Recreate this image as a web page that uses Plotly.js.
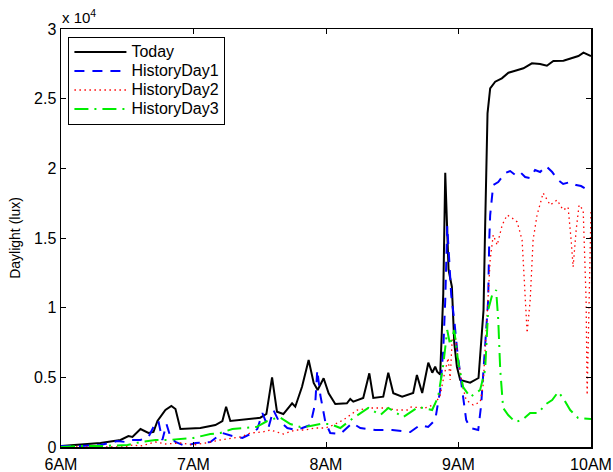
<!DOCTYPE html>
<html>
<head>
<meta charset="utf-8">
<script src="https://cdn.plot.ly/plotly-3.0.1.min.js"></script>
<style>html,body{margin:0;padding:0;background:#fff;}#chart{width:613px;height:472px;}</style>
</head>
<body>
<div id="chart"></div>
<script>
// time in hours (6 = 6AM)
const todayT = [6.0,6.298,6.449,6.509,6.539,6.600,6.660,6.698,6.728,6.788,6.833,6.864,6.901,7.052,7.165,7.218,7.246,7.278,7.504,7.550,7.593,7.630,7.678,7.744,7.768,7.819,7.869,7.907,7.937,7.982,8.020,8.070,8.158,8.183,8.206,8.281,8.327,8.357,8.432,8.470,8.508,8.575,8.658,8.686,8.726,8.772,8.802,8.824,8.839,8.862,8.885,8.900,8.925,8.950,8.968,8.988,9.013,9.088,9.151,9.189,9.201,9.209,9.219,9.239,9.277,9.327,9.377,9.428,9.490,9.554,9.616,9.667,9.716,9.792,9.855,9.905,9.943,10.0];
const todayV = [70,287,502,789,718,1292,1005,1077,1866,2655,2943,2727,1292,1364,1579,1866,2892,1866,2103,2368,5002,2533,2368,3136,2892,4328,6244,4593,4091,4931,3854,3086,3136,3445,3251,3517,5289,3517,3610,5332,3854,3610,3876,5167,3876,6050,5332,5763,5404,5200,11000,19687,12703,11505,7464,5763,4809,4615,4952,9832,15811,20598,23949,25744,26218,26462,26864,27007,27179,27538,27488,27366,27703,27725,27897,28062,28299,28062];

const hist1T = [6.0,6.147,6.298,6.426,6.486,6.532,6.600,6.660,6.698,6.735,6.765,6.796,6.826,6.864,6.939,7.014,7.127,7.218,7.293,7.369,7.429,7.482,7.520,7.565,7.603,7.640,7.708,7.769,7.821,7.882,7.919,7.934,7.957,7.995,8.032,8.108,8.198,8.259,8.372,8.500,8.636,8.711,8.771,8.824,8.862,8.885,8.900,8.915,8.930,8.945,8.968,8.990,9.028,9.058,9.088,9.149,9.171,9.201,9.224,9.232,9.239,9.262,9.300,9.352,9.390,9.428,9.465,9.503,9.541,9.578,9.616,9.661,9.707,9.752,9.790,9.843,9.888,9.925,9.963,10.0];
const hist1V = [72,72,144,431,359,502,502,718,1435,1866,502,1651,718,359,72,287,359,1005,789,646,933,1292,2440,1364,2655,1938,1364,1220,1364,1579,3158,5526,3732,1794,1005,933,1722,1364,1220,1220,1077,1579,1435,1938,4091,6961,10550,15861,13421,10909,9113,6961,4091,1938,1364,1220,3014,6961,10550,14854,16648,18802,19017,19663,19807,19520,19735,19376,19304,19878,19735,20166,19735,19161,18874,19017,18802,18730,18515,18443];

const hist2T = [6.0,6.275,6.471,6.539,6.600,6.713,6.788,6.901,6.999,7.090,7.203,7.354,7.429,7.520,7.580,7.678,7.769,7.844,7.919,7.995,8.055,8.130,8.236,8.334,8.447,8.538,8.613,8.643,8.749,8.824,8.862,8.892,8.922,8.937,8.952,8.975,8.998,9.028,9.058,9.111,9.164,9.186,9.209,9.224,9.239,9.262,9.292,9.330,9.367,9.405,9.443,9.480,9.503,9.518,9.541,9.563,9.593,9.639,9.692,9.744,9.790,9.827,9.850,9.865,9.888,9.910,9.941,9.963,9.971,9.986,10.0];
const hist2V = [0,0,0,144,72,359,215,287,144,287,502,718,1005,1077,1220,933,1220,1220,1364,1364,1579,1938,2655,2799,2799,2655,2655,2871,2799,3086,3732,5167,6387,4809,7679,8038,6244,4450,3373,3014,3230,4450,8397,10047,13421,15215,14497,15932,16650,16435,16148,14856,11268,8182,10550,14856,16650,18230,17368,17727,17009,17225,14856,12919,15574,17368,17009,10550,3732,10550,17009];

const hist3T = [6.0,6.147,6.298,6.502,6.600,6.713,6.804,6.902,6.999,7.127,7.203,7.293,7.391,7.474,7.557,7.648,7.731,7.806,7.882,7.957,8.032,8.108,8.206,8.319,8.410,8.470,8.583,8.696,8.801,8.846,8.885,8.915,8.937,8.968,8.998,9.035,9.088,9.163,9.201,9.224,9.254,9.284,9.300,9.315,9.337,9.375,9.428,9.480,9.541,9.601,9.661,9.707,9.752,9.790,9.843,9.903,10.0];
const hist3V = [0,72,72,144,359,502,502,574,646,933,1005,1292,1364,1435,1866,2153,1651,1435,1507,1651,1651,1364,2081,2799,2297,2799,2153,2871,2655,3588,5885,8397,7320,8397,6100,4306,3588,4091,5526,9831,10908,11267,9113,5526,2799,2297,1794,1938,2440,2440,3086,3373,3947,3517,2655,2081,2009];

const seriesNames = ['Today','HistoryDay1','HistoryDay2','HistoryDay3'];
const xTickVals = [6,7,8,9,10];
const xTickText = ['6AM','7AM','8AM','9AM','10AM'];
const yTickVals = [0,5000,10000,15000,20000,25000,30000];
const yTickText = ['0','0.5','1','1.5','2','2.5','3'];

const font = 'Liberation Sans, Arial, Helvetica, sans-serif';
// legend rows are spaced by the legend font size; the visible text is larger
const legendLabel = s => '<span style="font-size:16px">' + s + '</span>';

const traces = [
  {x: todayT, y: todayV, name: legendLabel(seriesNames[0]), mode: 'lines', line: {color: '#000000', width: 2, dash: 'solid'}},
  {x: hist1T, y: hist1V, name: legendLabel(seriesNames[1]), mode: 'lines', line: {color: '#0000ff', width: 2, dash: '10px,8px'}},
  {x: hist2T, y: hist2V, name: legendLabel(seriesNames[2]), mode: 'lines', line: {color: '#ff0000', width: 1.3, dash: '1.5px,3.5px'}},
  {x: hist3T, y: hist3V, name: legendLabel(seriesNames[3]), mode: 'lines', line: {color: '#00ee00', width: 2, dash: '14px,6px,2px,6px'}}
];

const layout = {
  width: 613, height: 472,
  margin: {l: 61, r: 22, t: 29, b: 25, pad: 0},
  paper_bgcolor: '#ffffff', plot_bgcolor: '#ffffff',
  font: {family: font, size: 16, color: '#000'},
  showlegend: true,
  legend: {x: 0.014, y: 0.982, xanchor: 'left', yanchor: 'top', bgcolor: '#ffffff', bordercolor: '#000', borderwidth: 1, font: {family: font, size: 12.3, color: '#000'}, itemwidth: 52, tracegroupgap: 0},
  xaxis: {range: [6, 10], tickvals: xTickVals, ticktext: xTickText, ticks: 'inside', ticklen: 5, tickcolor: '#000', showline: true, linecolor: '#000', linewidth: 1.5, mirror: 'ticks', showgrid: false, zeroline: false, tickfont: {family: font, size: 16}, ticklabelstandoff: 2},
  yaxis: {range: [0, 30000], tickvals: yTickVals, ticktext: yTickText, ticks: 'inside', ticklen: 5, tickcolor: '#000', showline: true, linecolor: '#000', linewidth: 1.5, mirror: 'ticks', showgrid: false, zeroline: false, tickfont: {family: font, size: 16}, title: {text: 'Daylight (lux)', font: {family: font, size: 14}, standoff: 10}},
  annotations: [{xref: 'paper', yref: 'paper', x: -0.002, y: 1.0, xanchor: 'left', yanchor: 'bottom', yshift: 1, showarrow: false, text: 'x 10<sup>4</sup>', font: {family: font, size: 15}}]
};

Plotly.newPlot('chart', traces, layout, {displayModeBar: false, staticPlot: true});
</script>
</body>
</html>
